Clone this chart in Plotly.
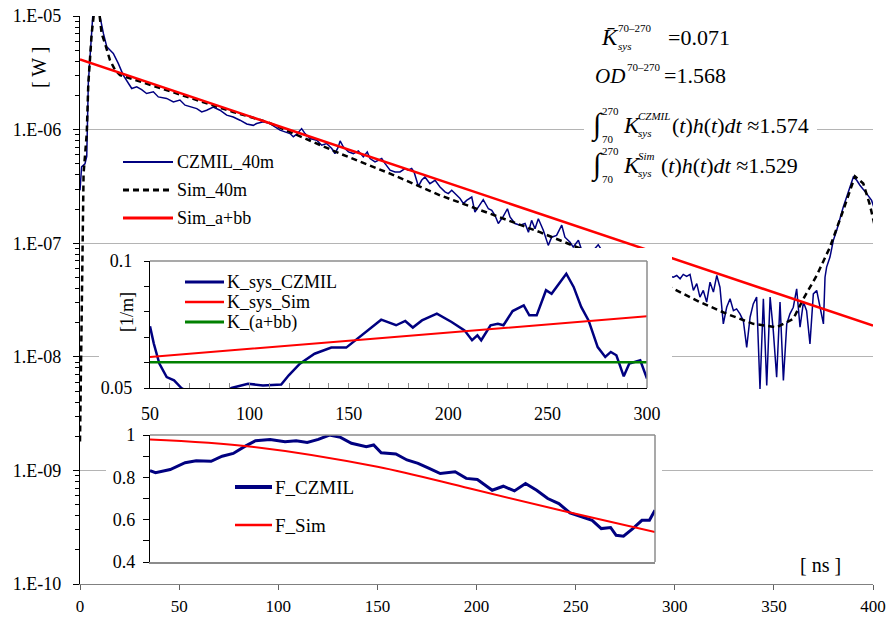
import plotly.graph_objects as go

FONT = "Times New Roman, Liberation Serif, DejaVu Serif, Liberation Sans, serif"
NAVY = "#000080"
RED = "#ff0000"
GREEN = "#008000"
GRAY = "#8c8c8c"

# ---------------- main chart data (time in ns, power in W) ----------------
CZMIL_T = [0, 0.8, 2.5, 3.4, 4.2, 5.9, 7.0, 8.5, 10.1, 11.8,
           13.5, 16.8, 19.3, 21.8, 24.4, 26.1, 28.6, 31.1, 33.6, 37.0,
           39.5, 43.7, 47.1, 50.4, 53.0, 56.3, 58.9, 61.4, 63.9, 67.2,
           70.6, 74.0, 77.3, 80.7, 84.1, 87.4, 89.1, 92.5, 95.8, 100.9,
           105.9, 107.6, 109.3, 111.8, 113.5, 116.0, 119.4, 121.9, 124.4, 127.0,
           128.6, 130.3, 131.2, 132.8, 135.4, 137.9, 140.4, 142.9, 144.9, 146.3,
           148.8, 150.5, 152.2, 153.9, 156.4, 158.9, 161.4, 163.9, 165.6, 167.3,
           168.5, 170.7, 172.3, 174.0, 176.5, 179.1, 181.6, 184.1, 185.8, 187.5,
           190.0, 191.7, 193.4, 195.0, 197.6, 199.2, 200.9, 203.4, 206.0, 207.7,
           209.3, 211.0, 213.5, 215.6, 216.9, 219.4, 222.0, 224.5, 226.2, 227.8,
           229.5, 231.2, 233.7, 236.2, 237.9, 240.4, 243.0, 244.6, 247.2, 248.8,
           251.4, 253.0, 255.7, 258.5, 261.4, 264.0, 270.0, 280.0, 290.0,
           299.3, 301.0, 302.7, 304.3, 306.0, 307.7, 309.4, 311.1, 312.7, 314.4,
           316.1, 317.8, 319.5, 321.2, 322.8, 324.5, 326.2, 327.9, 329.6, 331.2,
           332.9, 334.6, 336.3, 338.0, 339.6, 341.3, 343.0, 344.7, 346.4, 348.1,
           349.7, 351.4, 353.1, 354.8, 356.5, 358.1, 359.8, 361.5, 363.2, 364.9,
           366.5, 368.2, 369.9, 371.6, 373.3, 375.0, 375.8, 376.6, 378.3, 380.0,
           381.7, 383.4, 385.0, 386.7, 388.4, 390.1, 391.8, 393.4, 396.8, 399.3,
           401.0]
CZMIL_W = [2.92e-7, 4.69e-7, 5.0e-7, 5.82e-7, 2.58e-6, 6.61e-6, 1.41e-5, 1.26e-5, 9.86e-6, 7.03e-6,
           5.37e-6, 4.69e-6, 3.83e-6, 3.02e-6, 2.55e-6, 2.30e-6, 2.38e-6, 2.25e-6, 2.08e-6, 2.15e-6,
           1.94e-6, 1.88e-6, 1.75e-6, 1.82e-6, 1.64e-6, 1.58e-6, 1.53e-6, 1.43e-6, 1.48e-6, 1.58e-6,
           1.48e-6, 1.34e-6, 1.29e-6, 1.21e-6, 1.12e-6, 1.09e-6, 1.13e-6, 1.17e-6, 1.13e-6, 9.89e-7,
           9.23e-7, 8.63e-7, 9.12e-7, 1.02e-6, 9.23e-7, 8.34e-7, 8.07e-7, 7.29e-7, 7.54e-7, 6.81e-7,
           6.15e-7, 7.05e-7, 7.96e-7, 7.05e-7, 6.37e-7, 6.15e-7, 6.5e-7, 5.75e-7, 6.37e-7, 5.56e-7,
           5.2e-7, 5.37e-7, 5.56e-7, 5.02e-7, 4.39e-7, 4.24e-7, 4.24e-7, 4.54e-7, 4.39e-7, 4.54e-7,
           4.24e-7, 3.17e-7, 3.58e-7, 3.83e-7, 3.34e-7, 3.58e-7, 3.13e-7, 2.83e-7, 2.73e-7, 2.92e-7,
           2.64e-7, 2.47e-7, 2.23e-7, 2.38e-7, 2.55e-7, 1.88e-7, 2.08e-7, 2.42e-7, 2.01e-7, 1.95e-7,
           1.76e-7, 1.49e-7, 1.72e-7, 2.01e-7, 1.7e-7, 1.49e-7, 1.44e-7, 1.49e-7, 1.25e-7, 1.59e-7,
           1.34e-7, 1.64e-7, 1.3e-7, 9.57e-8, 1.13e-7, 1.17e-7, 1.44e-7, 1.13e-7, 1.02e-7, 9.25e-8,
           1.06e-7, 8.77e-8, 8.77e-8, 8.5e-8, 9.7e-8, 8.2e-8, 7.4e-8, 6.4e-8, 5.6e-8,
           5.02e-8, 5.2e-8, 4.86e-8, 5.31e-8, 5.1e-8, 5.31e-8, 3.84e-8, 4.4e-8, 3.35e-8, 3.84e-8,
           3.03e-8, 4.54e-8, 3.71e-8, 5.2e-8, 4.1e-8, 1.95e-8, 2.73e-8, 3.24e-8, 2.55e-8, 2.64e-8,
           2.39e-8, 2.08e-8, 1.21e-8, 2.23e-8, 2.92e-8, 3.35e-8, 5.2e-9, 3.24e-8, 5.6e-9, 3.35e-8,
           1.7e-8, 6.6e-9, 3.03e-8, 6.2e-9, 1.95e-8, 2.39e-8, 2.73e-8, 3.97e-8, 1.82e-8, 3.03e-8,
           2.55e-8, 1.3e-8, 3.58e-8, 3.84e-8, 2.73e-8, 1.95e-8, 5.02e-8, 6.16e-8, 7.55e-8, 1.06e-7,
           1.3e-7, 1.7e-7, 2.08e-7, 2.55e-7, 3.13e-7, 3.83e-7, 3.58e-7, 3.24e-7, 2.73e-7, 2.38e-7,
           1.94e-7]

SIM_T = [0, 0.8, 1.5, 1.8, 3.4, 4.2, 5.9, 7.6, 9.0, 10.1,
         10.9, 12.6, 15.1, 17.7, 20.2, 26.9, 43.7, 60.5, 77.3, 94.2,
         107.6, 131.1, 156.4, 181.6, 206.8, 232.0, 253.9, 270.0, 285.0, 299.3,
         312.7, 326.2, 339.6, 351.4, 359.8, 364.9, 371.6, 378.3, 385.0, 390.9,
         395.1, 398.5, 401.0]
SIM_W = [1.8e-9, 2e-8, 1e-7, 4.1e-7, 9.2e-7, 2.55e-6, 7.0e-6, 1.3e-5, 1.4e-5, 9.9e-6,
         7.03e-6, 5.74e-6, 4.09e-6, 3.34e-6, 3.02e-6, 2.77e-6, 2.22e-6, 1.79e-6, 1.43e-6, 1.17e-6,
         9.23e-7, 6.15e-7, 4.10e-7, 2.64e-7, 1.82e-7, 1.25e-7, 8.75e-8, 6.6e-8, 5.1e-8, 3.97e-8,
         3.03e-8, 2.39e-8, 1.95e-8, 1.82e-8, 2.16e-8, 3.24e-8, 5.2e-8, 9.25e-8, 1.95e-7, 3.88e-7,
         3.35e-7, 2.15e-7, 1.39e-7]

ABB_T = [0, 400]
ABB_W = [4.15e-6, 1.88e-8]

MAIN_X_TICKS = [0, 50, 100, 150, 200, 250, 300, 350, 400]
MAIN_Y_TICKS = [1e-10, 1e-9, 1e-8, 1e-7, 1e-6, 1e-5]
MAIN_Y_LABELS = ["1.E-10", "1.E-09", "1.E-08", "1.E-07", "1.E-06", "1.E-05"]

# ---------------- inset 1: K_sys (1/m) ----------------
K_CZMIL_T = [50, 51.9, 54.7, 58.4, 62.1, 65.8, 70, 75, 80, 85,
             91, 99.3, 106.8, 112.4, 116, 119.8, 125.4, 132.8, 141.2, 148.7,
             155.2, 162.6, 166.3, 173.8, 178.4, 182.2, 186.8, 194.3, 201.7, 208.2,
             212, 214.7, 216.6, 221.3, 225, 227.8, 232.4, 238, 240.8, 244.5,
             249.2, 252, 255.7, 259.4, 263.1, 266.9, 270.6, 275.2, 279, 281.8,
             284.6, 288.3, 291.1, 296.6, 300]
K_CZMIL = [0.0743, 0.0675, 0.0596, 0.0543, 0.053, 0.05, 0.048, 0.046, 0.045, 0.047,
           0.05, 0.0517, 0.051, 0.0514, 0.0514, 0.055, 0.0596, 0.0635, 0.0659, 0.0659,
           0.070, 0.0747, 0.0769, 0.0747, 0.0764, 0.0738, 0.0766, 0.0793, 0.076, 0.0727,
           0.0688, 0.0707, 0.0688, 0.0747, 0.0753, 0.0747, 0.0803, 0.0825, 0.0786, 0.0786,
           0.0885, 0.0871, 0.0913, 0.095, 0.0898, 0.0819, 0.0766, 0.0661, 0.0622, 0.0642,
           0.0629, 0.0546, 0.0596, 0.0609, 0.0537]
K_SIM_T = [50, 150, 300]
K_SIM = [0.0622, 0.0686, 0.0782]
K_ABB_T = [50, 300]
K_ABB = [0.0601, 0.0601]
K_X_TICKS = [50, 100, 150, 200, 250, 300]
K_Y_TICKS = [0.05, 0.06, 0.07, 0.08, 0.09, 0.1]
K_Y_LABELS = ["0.05", "", "", "", "", "0.1"]

# ---------------- inset 2: F ----------------
F_CZMIL_T = [35.3, 38.1, 45.5, 53.0, 58.6, 66.1, 71.7, 77.3, 82.9, 88.5,
             95.9, 103.4, 109.0, 114.6, 120.2, 125.8, 131.4, 136.9, 144.4, 148.1,
             151.9, 159.3, 164.9, 170.5, 176.1, 181.7, 189.2, 194.8, 200.4, 207.9,
             213.5, 219.1, 224.7, 230.3, 235.9, 241.5, 247.1, 252.7, 258.3, 262.9,
             267.6, 270.4, 274.1, 278.8, 283.4, 287.2, 290.0]
F_CZMIL = [0.831, 0.822, 0.837, 0.869, 0.878, 0.876, 0.9, 0.913, 0.945, 0.973,
           0.979, 0.968, 0.973, 0.965, 0.979, 1.0, 0.989, 0.961, 0.945, 0.953,
           0.916, 0.91, 0.882, 0.866, 0.842, 0.818, 0.826, 0.795, 0.79, 0.739,
           0.758, 0.736, 0.771, 0.739, 0.7, 0.676, 0.632, 0.616, 0.597, 0.558,
           0.563, 0.526, 0.522, 0.558, 0.597, 0.597, 0.645]
F_SIM_T = [35.3, 86.6, 150, 196.7, 243.3, 290]
F_SIM = [0.979, 0.945, 0.85, 0.747, 0.642, 0.542]
F_Y_TICKS = [0.4, 0.5, 0.6, 0.7, 0.8, 0.9, 1.0]
F_Y_LABELS = ["0.4", "", "0.6", "", "0.8", "", "1"]

# ---------------- page geometry helpers (pixels -> paper) ----------------
W, H = 893, 619
ML, MR, MT, MB = 80, 20, 16, 35
PW, PH = W - ML - MR, H - MT - MB


def px(x):
    return (x - ML) / PW


def py(y):
    return (H - MB - y) / PH


fig = go.Figure()

# main traces
fig.add_trace(go.Scatter(x=CZMIL_T, y=CZMIL_W, mode="lines", name="CZMIL_40m",
                         line=dict(color=NAVY, width=1.5), xaxis="x", yaxis="y"))
fig.add_trace(go.Scatter(x=SIM_T, y=SIM_W, mode="lines", name="Sim_40m",
                         line=dict(color="black", width=2.5, dash="6px,4px"), xaxis="x", yaxis="y"))
fig.add_trace(go.Scatter(x=ABB_T, y=ABB_W, mode="lines", name="Sim_a+bb",
                         line=dict(color=RED, width=2.5), xaxis="x", yaxis="y"))

# white covers (empty subplots whose background hides the main chart)
for ax in ("2", "3"):
    fig.add_trace(go.Scatter(x=[None], y=[None], mode="lines", showlegend=False,
                             hoverinfo="skip", xaxis="x" + ax, yaxis="y" + ax))

# inset K
fig.add_trace(go.Scatter(x=K_CZMIL_T, y=K_CZMIL, mode="lines", name="K_sys_CZMIL",
                         line=dict(color=NAVY, width=2.5), xaxis="x4", yaxis="y4"))
fig.add_trace(go.Scatter(x=K_SIM_T, y=K_SIM, mode="lines", name="K_sys_Sim",
                         line=dict(color=RED, width=2, shape="spline"), xaxis="x4", yaxis="y4"))
fig.add_trace(go.Scatter(x=K_ABB_T, y=K_ABB, mode="lines", name="K_(a+bb)",
                         line=dict(color=GREEN, width=2.5), xaxis="x4", yaxis="y4"))

# inset F
fig.add_trace(go.Scatter(x=F_CZMIL_T, y=F_CZMIL, mode="lines", name="F_CZMIL",
                         line=dict(color=NAVY, width=3), xaxis="x5", yaxis="y5"))
fig.add_trace(go.Scatter(x=F_SIM_T, y=F_SIM, mode="lines", name="F_Sim",
                         line=dict(color=RED, width=2, shape="spline"), xaxis="x5", yaxis="y5"))

tickfont = dict(family=FONT, size=18, color="black")
xtickfont = dict(family=FONT, size=17, color="black")
minor_vals = [k * 10 ** e for e in range(-10, -5) for k in range(2, 10)]

layout = dict(
    width=W, height=H,
    margin=dict(l=ML, r=MR, t=MT, b=MB, autoexpand=False),
    paper_bgcolor="white", plot_bgcolor="white",
    showlegend=False,
    font=dict(family=FONT, color="black"),
    xaxis=dict(domain=[0, 1], anchor="y", range=[0, 400], tickmode="array",
               tickvals=MAIN_X_TICKS, ticks="outside", ticklen=5, tickcolor="#606060",
               showline=True, linecolor="#808080", linewidth=1.2, showgrid=False,
               zeroline=False, tickfont=xtickfont, ticklabelstandoff=1, automargin=False),
    yaxis=dict(domain=[0, 1], anchor="x", type="log", range=[-10, -5], tickmode="array",
               tickvals=MAIN_Y_TICKS, ticktext=MAIN_Y_LABELS, ticks="outside", ticklen=6,
               tickcolor="black", showline=True, linecolor="black", linewidth=1.2,
               showgrid=True, gridcolor="#b4b4b4", gridwidth=1, zeroline=False,
               tickfont=tickfont, ticklabelstandoff=8, automargin=False,
               minor=dict(tickmode="array", tickvals=minor_vals, ticks="outside",
                          ticklen=4, tickcolor="black", showgrid=False)),
    xaxis2=dict(domain=[px(99), px(672)], anchor="y2", range=[0, 1], visible=False,
                automargin=False),
    yaxis2=dict(domain=[py(425), py(248)], anchor="x2", range=[0, 1], visible=False,
                automargin=False),
    xaxis3=dict(domain=[px(106), px(662)], anchor="y3", range=[0, 1], visible=False,
                automargin=False),
    yaxis3=dict(domain=[py(577), py(425)], anchor="x3", range=[0, 1], visible=False,
                automargin=False),
    xaxis4=dict(domain=[px(150), px(647)], anchor="y4", range=[50, 300], tickmode="array",
                tickvals=K_X_TICKS, ticks="inside", ticklen=5, tickcolor=GRAY,
                showline=True, linecolor="black", linewidth=1.2, showgrid=False,
                zeroline=False, tickfont=tickfont, ticklabelstandoff=9, automargin=False,
                minor=dict(dtick=10, tick0=50, ticks="inside", ticklen=5, tickcolor=GRAY,
                           showgrid=False)),
    yaxis4=dict(domain=[py(388), py(261)], anchor="x4", range=[0.05, 0.1], tickmode="array",
                tickvals=K_Y_TICKS, ticktext=K_Y_LABELS, ticks="outside", ticklen=5,
                tickcolor="black", showline=True, linecolor="black", linewidth=1.2,
                showgrid=False, zeroline=False, tickfont=tickfont, ticklabelstandoff=8,
                automargin=False),
    xaxis5=dict(domain=[px(150), px(655)], anchor="y5", range=[35.3, 290],
                showticklabels=False, ticks="", showline=True, linecolor=GRAY,
                linewidth=1.5, showgrid=False, zeroline=False, automargin=False),
    yaxis5=dict(domain=[py(562), py(435)], anchor="x5", range=[0.4, 1.0], tickmode="array",
                tickvals=F_Y_TICKS, ticktext=F_Y_LABELS, ticks="outside", ticklen=6,
                tickcolor="black", showline=True, linecolor="black", linewidth=1.2,
                showgrid=False, zeroline=False, tickfont=tickfont, ticklabelstandoff=4,
                automargin=False),
)
fig.update_layout(**layout)

shapes = []
annotations = []


def hline(x0, x1, y, color, width, dash="solid"):
    shapes.append(dict(type="line", xref="paper", yref="paper", x0=px(x0), x1=px(x1),
                       y0=py(y), y1=py(y), line=dict(color=color, width=width, dash=dash),
                       layer="above"))


def vline(x, y0, y1, color, width):
    shapes.append(dict(type="line", xref="paper", yref="paper", x0=px(x), x1=px(x),
                       y0=py(y0), y1=py(y1), line=dict(color=color, width=width),
                       layer="above"))


def ann(text, x, y, size, xanchor="left", angle=0):
    annotations.append(dict(text=text, x=px(x), y=py(y), xref="paper", yref="paper",
                            showarrow=False, xanchor=xanchor, yanchor="middle",
                            textangle=angle, borderpad=0,
                            font=dict(family=FONT, size=size, color="black")))


# inset frames (grey top/right)
hline(150, 647, 261, GRAY, 1.5)
vline(647, 261, 388, GRAY, 1.5)
hline(150, 655, 435, GRAY, 1.5)
vline(655, 435, 562, GRAY, 1.5)

# white box behind the formulas
shapes.append(dict(type="rect", xref="paper", yref="paper", x0=px(584), x1=px(817),
                   y0=py(190), y1=py(22), fillcolor="white", line=dict(width=0),
                   layer="above"))

# main legend
hline(123, 173, 162, NAVY, 2)
hline(123, 173, 190, "black", 3, "6px,4px")
hline(123, 173, 218, RED, 3)
ann("CZMIL_40m", 176, 162, 18)
ann("Sim_40m", 176, 190, 18)
ann("Sim_a+bb", 176, 218, 18)

# K legend
hline(185, 224, 282, NAVY, 3)
hline(185, 224, 302, RED, 2.5)
hline(185, 224, 322, GREEN, 3)
ann("K_sys_CZMIL", 226, 282, 18)
ann("K_sys_Sim", 226, 302, 18)
ann("K_(a+bb)", 226, 322, 18)

# F legend
hline(235, 272, 487, NAVY, 4)
hline(235, 272, 525, RED, 2.5)
ann("F_CZMIL", 274, 487, 19)
ann("F_Sim", 274, 525, 19)

# axis labels
ann("[ W ]", 39, 68, 20, xanchor="center", angle=-90)
ann("[1/m]", 127, 312, 18, xanchor="center", angle=-90)
ann("[ ns ]", 820, 565, 20, xanchor="center")

# formulas
ann("<i>K\u0304</i>", 600, 37, 23)
ann("70\u2013270", 617, 28, 11)
ann("<i>sys</i>", 617, 46, 11)
ann("=0.071", 667, 37, 22)

ann("<i>OD</i>", 594, 76, 21)
ann("70\u2013270", 626, 67, 11)
ann("=1.568", 663, 76, 22)

for yc, sup, val in ((125, "CZMIL", "1.574"), (165, "Sim", "1.529")):
    ann("\u222b", 590, yc, 30)
    ann("270", 601, yc - 14, 11)
    ann("70", 601, yc + 14, 11)
    ann("<i>K</i>", 622, yc, 23)
    ann("<i>" + sup + "</i>", 637, yc - 9, 11)
    ann("<i>sys</i>", 637, yc + 8, 11)
    ann("(<i>t</i>)<i>h</i>(<i>t</i>)<i>dt</i> \u2248" + val,
        (671 if sup == "CZMIL" else 660), yc, 22)

fig.update_layout(shapes=shapes, annotations=annotations)
fig.write_html("out.html")
